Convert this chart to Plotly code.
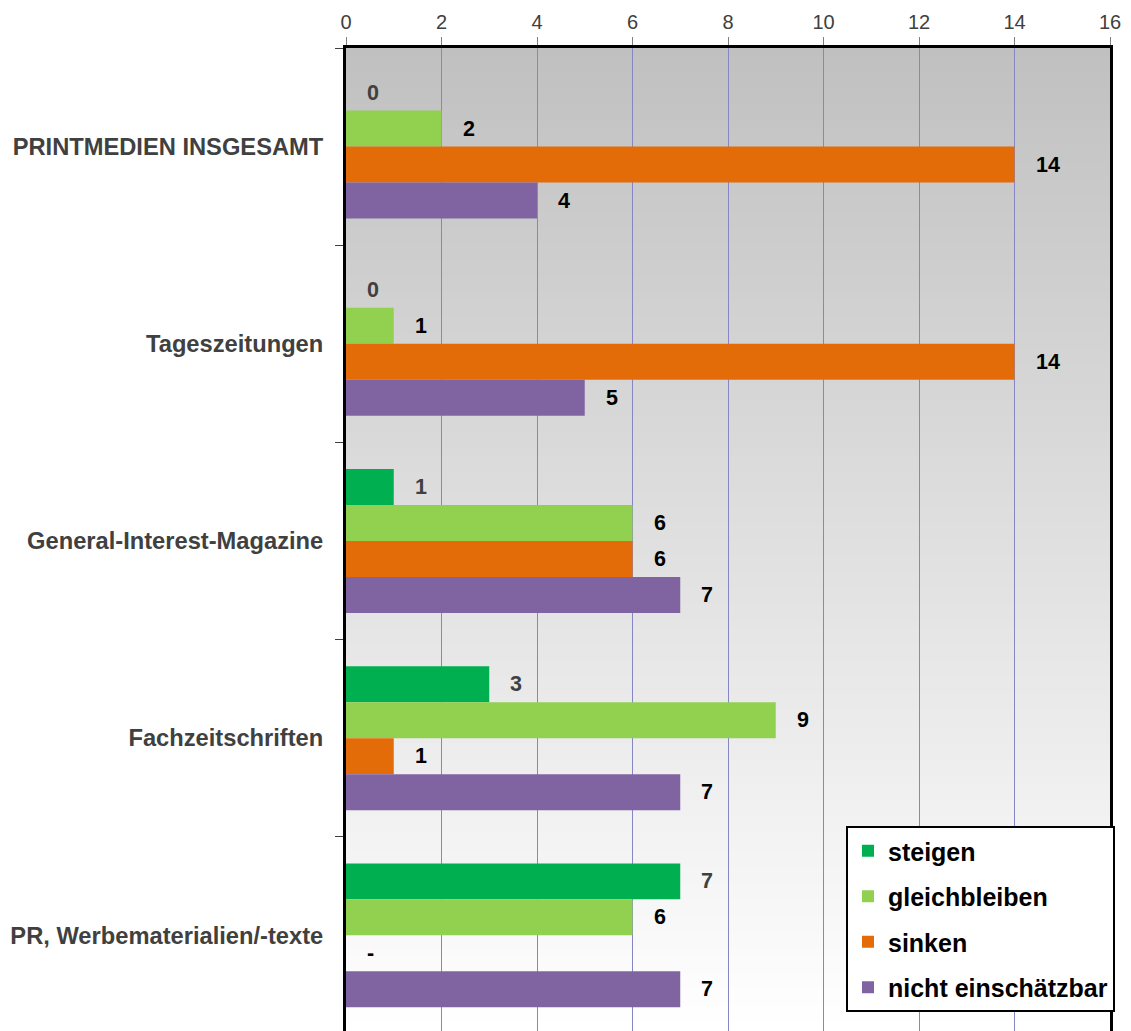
import plotly.graph_objects as go

categories = ["PRINTMEDIEN INSGESAMT", "Tageszeitungen", "General-Interest-Magazine",
              "Fachzeitschriften", "PR, Werbematerialien/-texte"]
series_names = ["steigen", "gleichbleiben", "sinken", "nicht einschätzbar"]
steigen = [0, 0, 1, 3, 7]
gleichbleiben = [2, 1, 6, 9, 6]
sinken = [14, 14, 6, 1, 0]
nicht_einschaetzbar = [4, 5, 7, 7, 7]
sinken_labels = ["14", "14", "6", "1", "-"]
x_ticks = [0, 2, 4, 6, 8, 10, 12, 14, 16]

series = [steigen, gleichbleiben, sinken, nicht_einschaetzbar]
labels = [[str(v) for v in steigen], [str(v) for v in gleichbleiben], sinken_labels,
          [str(v) for v in nicht_einschaetzbar]]
colors = ["#00b050", "#92d050", "#e36c09", "#8064a2"]
label_colors = ["#404040", "#000000", "#000000", "#000000"]

W, H = 1131, 1031
M_L, M_R, M_T, M_B = 346, 21, 48, 0
BARGAP = 0.27
FONT = "Liberation Sans, Arial, sans-serif"

fig = go.Figure()
for i, (name, vals) in enumerate(zip(series_names, series)):
    fig.add_trace(go.Bar(
        y=categories, x=vals, name=name, orientation="h",
        marker=dict(color=colors[i], line=dict(width=0)),
        legendgroup=name, hoverinfo="skip",
    ))

# data labels
n = len(series)
bar_w = (1 - BARGAP) / n
annotations = []
for i in range(n):
    off = (-(n - 1) / 2 + i) * bar_w
    for ci, v in enumerate(series[i]):
        annotations.append(dict(
            x=v, y=ci + off, xref="x", yref="y", text=labels[i][ci],
            showarrow=False, xanchor="left", yanchor="middle", xshift=19,
            font=dict(family=FONT, size=21.5, color=label_colors[i], weight="bold"),
        ))

# gradient background (plot area)
shapes = []
N = 120
for k in range(N):
    t = k / N
    g = int(round(192 + (255 - 192) * (t + 0.5 / N)))
    shapes.append(dict(
        type="rect", xref="paper", yref="paper", x0=0, x1=1,
        y0=1 - (k + 1) / N, y1=1 - k / N + 0.001,
        fillcolor=f"rgb({g},{g},{g})", line=dict(width=0), layer="below",
    ))

fig.update_layout(
    width=W, height=H,
    margin=dict(l=M_L, r=M_R, t=M_T, b=M_B, pad=0),
    paper_bgcolor="white", plot_bgcolor="white",
    barmode="group", bargap=BARGAP, bargroupgap=0,
    font=dict(family=FONT, color="#404040"),
    shapes=shapes, annotations=annotations,
    legend=dict(
        x=(846 - M_L) / (W - M_L - M_R), y=(H - 826) / (H - M_T - M_B),
        xanchor="left", yanchor="top",
        bgcolor="white", bordercolor="black", borderwidth=2,
        font=dict(family=FONT, size=25, color="black", weight="bold"),
        traceorder="grouped", tracegroupgap=10, itemwidth=30,
    ),
    xaxis=dict(
        side="top", range=[0, 16], tickvals=x_ticks, ticks="outside", ticklen=8,
        tickcolor="#808080", tickfont=dict(size=20, color="#404040"),
        showgrid=True, gridcolor="#8686c6", gridwidth=1, zeroline=False,
        showline=True, linecolor="black", linewidth=3, mirror=False,
    ),
    yaxis=dict(
        type="category", range=[4.485, -0.5], tickson="boundaries",
        ticks="outside", ticklen=8, tickcolor="#404040",
        tickfont=dict(size=23.7, color="#404040", weight="bold"),
        ticklabelstandoff=15,
        showgrid=False, zeroline=False,
        showline=True, linecolor="black", linewidth=3, mirror=True,
    ),
)

fig.write_html("out.html")
